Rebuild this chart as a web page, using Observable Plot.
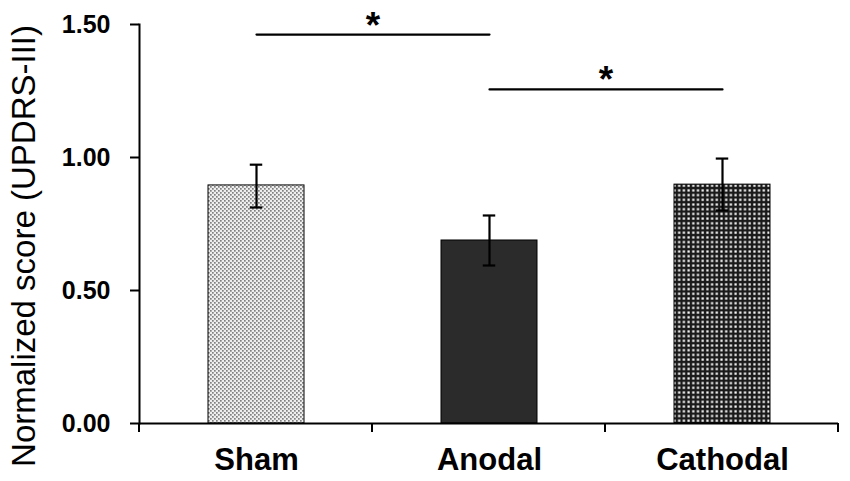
<!DOCTYPE html>
<html><head><meta charset="utf-8">
<script src="https://cdn.jsdelivr.net/npm/d3@7"></script>
<script src="https://cdn.jsdelivr.net/npm/@observablehq/plot@0.6"></script>
<style>body{margin:0;background:#fff} svg{display:block}</style>
</head><body><div id="chart"></div>
<script>
const categories = ["Sham", "Anodal", "Cathodal"];
const means = [0.895, 0.688, 0.898];
const errLow = [0.812, 0.594, 0.801];
const errHigh = [0.973, 0.782, 0.996];
const fills = ["url(#patSham)", "#2b2b2b", "url(#patCath)"];
const yTicks = [0, 0.5, 1.0, 1.5];
const sigPairs = [["Sham", "Anodal"], ["Anodal", "Cathodal"]];
const sigLevels = [1.462, 1.256];
const sigLabels = ["*", "*"];
const yLabel = "Normalized score (UPDRS-III)";

const W = 850, H = 481, mL = 139, mR = 12, mT = 24, mB = 58;
const step = (W - mL - mR) / categories.length;
const padInner = 0.59;
const bw = step * (1 - padInner);
const capW = 12;
const font = "'Liberation Sans', Arial, sans-serif";

const bars = categories.map((c, i) => ({c, v: means[i], lo: errLow[i], hi: errHigh[i], fill: fills[i]}));
const sigLines = sigPairs.flatMap((p, i) => p.map(c => ({g: i, c, y: sigLevels[i]})));
const sigText = sigPairs.map((p, i) => ({c: p[0], y: sigLevels[i], t: sigLabels[i]}));

const plot = Plot.plot({
  width: W, height: H,
  marginLeft: mL, marginRight: mR, marginTop: mT, marginBottom: mB,
  style: {fontFamily: font, color: "#000", background: "#fff"},
  x: {domain: categories, paddingInner: padInner, paddingOuter: padInner / 2, align: 0.5, label: null},
  y: {domain: [0, 1.5], label: null},
  color: {type: "identity"},
  marks: [
    Plot.barY(bars, {x: "c", y: "v", fill: "fill", stroke: "#000", strokeWidth: 1}),
    Plot.ruleX(bars, {x: "c", y1: "lo", y2: "hi", stroke: "#000", strokeWidth: 2.2}),
    Plot.tickY(bars, {x: "c", y: "lo", stroke: "#000", strokeWidth: 2.2, insetLeft: (bw - capW) / 2, insetRight: (bw - capW) / 2}),
    Plot.tickY(bars, {x: "c", y: "hi", stroke: "#000", strokeWidth: 2.2, insetLeft: (bw - capW) / 2, insetRight: (bw - capW) / 2}),
    Plot.line(sigLines, {x: "c", y: "y", z: "g", stroke: "#000", strokeWidth: 2.2}),
    Plot.text(sigText, {x: "c", y: "y", text: "t", dx: step / 2, dy: 3, lineAnchor: "bottom", fontSize: 37, fontWeight: "bold", fill: "#000"}),
    Plot.frame({anchor: "left", stroke: "#000", strokeWidth: 2}),
    Plot.ruleY([0], {stroke: "#000", strokeWidth: 2}),
    Plot.axisY({ticks: yTicks, tickFormat: d3.format(".2f"), tickSize: 9, tickPadding: 20, fontSize: 25, fontWeight: "bold", strokeWidth: 2, label: null}),
    Plot.axisX({tickSize: 0, tickPadding: 24, fontSize: 31, fontWeight: "bold", label: null}),
    Plot.text([yLabel], {text: d => d, frameAnchor: "left", rotate: -90, dx: -115, dy: 22, fontSize: 33, textAnchor: "middle", lineAnchor: "middle", fill: "#000"})
  ]
});

const svg = d3.select(plot);
const defs = svg.insert("defs", ":first-child");
const p1 = defs.append("pattern").attr("id", "patSham").attr("patternUnits", "userSpaceOnUse").attr("width", 4).attr("height", 4);
p1.append("rect").attr("width", 4).attr("height", 4).attr("fill", "#eeeeee");
p1.append("rect").attr("x", 0).attr("y", 0).attr("width", 1.7).attr("height", 1.7).attr("fill", "#808080");
p1.append("rect").attr("x", 2).attr("y", 2).attr("width", 1.7).attr("height", 1.7).attr("fill", "#808080");
const p2 = defs.append("pattern").attr("id", "patCath").attr("patternUnits", "userSpaceOnUse").attr("width", 4.7).attr("height", 4.7);
p2.append("rect").attr("width", 4.7).attr("height", 4.7).attr("fill", "#1a1a1a");
p2.append("rect").attr("x", 1.3).attr("y", 1.3).attr("width", 2.2).attr("height", 2.2).attr("fill", "#ffffff");

// category boundary ticks on the x axis
const xs = plot.scale("x"), ys = plot.scale("y");
const r0 = xs.range[0], r1 = xs.range[1];
const n = categories.length;
const y0 = ys.apply(0);
svg.append("g").attr("stroke", "#000").attr("stroke-width", 2)
  .selectAll("line").data(d3.range(n + 1)).join("line")
  .attr("x1", i => r0 + i * (r1 - r0) / n).attr("x2", i => r0 + i * (r1 - r0) / n)
  .attr("y1", y0).attr("y2", y0 + 9);

document.getElementById("chart").appendChild(plot);
</script>
</body></html>
